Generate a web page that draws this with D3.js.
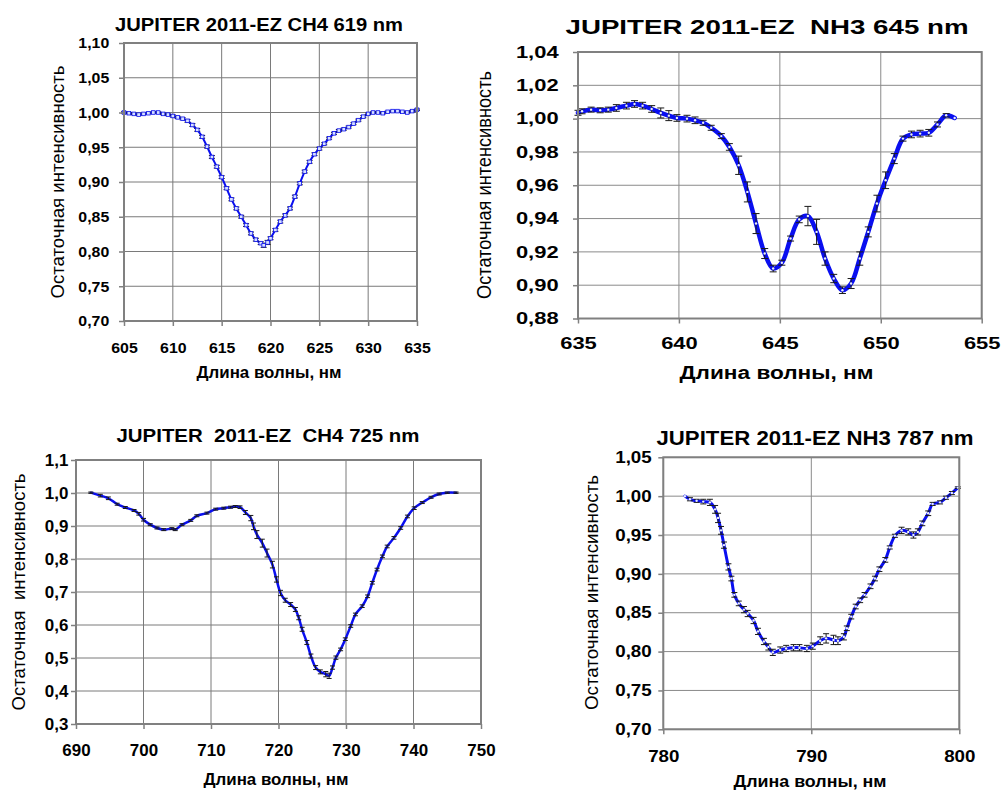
<!DOCTYPE html>
<html><head><meta charset="utf-8">
<script src="https://cdn.jsdelivr.net/npm/d3@7"></script>
<style>
body{margin:0;background:#fff;}
svg{display:block;}
text{font-family:"Liberation Sans",Arial,sans-serif;fill:#000;}
</style>
</head><body>
<svg id="c" width="1003" height="792"></svg>
<script>
// ---------- Panel 1: CH4 619 nm ----------
const wl1 = [605,605.5,606,606.5,607,607.5,608,608.5,609,609.5,610,610.5,611,611.5,612,612.5,613,613.5,614,614.5,615,615.5,616,616.5,617,617.5,618,618.5,619,619.3,619.7,620,620.5,621,621.5,622,622.5,623,623.5,624,624.5,625,625.5,626,626.5,627,627.5,628,628.5,629,629.5,630,630.5,631,631.5,632,632.5,633,633.5,634,634.5,635];
const r1 = [1.000,0.999,0.998,0.997,0.998,0.999,1.000,1.000,0.998,0.997,0.995,0.993,0.991,0.988,0.982,0.975,0.965,0.951,0.936,0.922,0.907,0.891,0.875,0.862,0.850,0.838,0.826,0.817,0.812,0.809,0.813,0.819,0.831,0.843,0.852,0.862,0.879,0.898,0.915,0.929,0.940,0.948,0.955,0.963,0.970,0.974,0.976,0.979,0.984,0.989,0.994,0.998,1.000,1.000,0.999,1.001,1.002,1.002,1.001,1.000,1.002,1.004];
const e1 = [0.001,0.001,0.001,0.001,0.001,0.001,0.001,0.001,0.001,0.001,0.0015,0.0015,0.0015,0.002,0.002,0.002,0.002,0.002,0.002,0.002,0.002,0.002,0.002,0.002,0.002,0.002,0.002,0.002,0.002,0.003,0.003,0.002,0.002,0.002,0.002,0.002,0.002,0.002,0.002,0.002,0.002,0.002,0.0015,0.0015,0.0015,0.0015,0.0015,0.0015,0.0015,0.0015,0.0015,0.001,0.001,0.001,0.001,0.001,0.001,0.001,0.001,0.001,0.001,0.001];
const xTicks1 = [605,610,615,620,625,630,635];
const yTicks1 = [0.70,0.75,0.80,0.85,0.90,0.95,1.00,1.05,1.10];
const yLabels1 = ["0,70","0,75","0,80","0,85","0,90","0,95","1,00","1,05","1,10"];

// ---------- Panel 2: NH3 645 nm ----------
const wl2 = [635.0,635.2,635.65,636.1,636.5,636.9,637.4,637.8,638.2,638.65,639.1,639.5,639.9,640.4,640.8,641.2,641.6,642.1,642.5,642.96,643.39,643.82,644.25,644.67,645.1,645.53,645.96,646.39,646.82,647.24,647.67,648.1,648.53,648.96,649.38,649.81,650.24,650.67,651.1,651.52,651.95,652.38,652.81,653.24,653.66];
const r2 = [1.0035,1.0044,1.0054,1.005,1.0054,1.0064,1.0078,1.0088,1.0078,1.0058,1.0034,1.0018,1.0004,1.0,0.999,0.9975,0.9945,0.9895,0.983,0.972,0.956,0.937,0.919,0.910,0.9135,0.928,0.9395,0.9415,0.932,0.916,0.904,0.897,0.901,0.916,0.932,0.949,0.963,0.976,0.988,0.9905,0.991,0.9915,0.9965,1.002,1.0004];
const e2 = [0.0015,0.0015,0.0015,0.0015,0.0015,0.002,0.002,0.002,0.002,0.002,0.003,0.003,0.002,0.002,0.002,0.0015,0.0015,0.0015,0.002,0.0055,0.006,0.006,0.003,0.002,0.0015,0.0015,0.002,0.0058,0.0075,0.004,0.0025,0.002,0.003,0.004,0.003,0.005,0.005,0.003,0.0015,0.002,0.002,0.002,0.0015,0.001,0];
const xTicks2 = [635,640,645,650,655];
const yTicks2 = [0.88,0.90,0.92,0.94,0.96,0.98,1.00,1.02,1.04];
const yLabels2 = ["0,88","0,90","0,92","0,94","0,96","0,98","1,00","1,02","1,04"];

// ---------- Panel 3: CH4 725 nm ----------
const wl3 = [692.2,693.6,694.8,696.1,697.3,698.6,699.3,700.0,701.0,702.0,703.0,704.2,704.7,705.7,707.0,707.9,709.4,710.7,711.9,712.9,713.6,714.3,715.1,715.9,716.3,716.8,717.6,718.3,719.1,719.7,720.3,721.0,721.8,722.5,723.0,723.5,724.2,724.8,725.5,726.2,727.0,727.5,728.0,728.5,729.2,729.9,730.7,731.4,732.4,733.2,733.9,734.6,735.4,736.1,737.1,738.1,739.1,740.1,741.3,742.6,743.8,745.0,746.3];
const r3 = [1.001,0.992,0.984,0.966,0.956,0.947,0.937,0.919,0.904,0.894,0.889,0.892,0.889,0.904,0.917,0.931,0.939,0.951,0.954,0.957,0.959,0.957,0.941,0.924,0.899,0.874,0.848,0.818,0.783,0.738,0.697,0.675,0.662,0.647,0.622,0.587,0.547,0.506,0.471,0.458,0.451,0.446,0.471,0.501,0.526,0.557,0.597,0.632,0.657,0.687,0.728,0.768,0.808,0.838,0.864,0.894,0.929,0.954,0.971,0.987,0.997,1.001,1.001];
const e3 = [0.002,0.004,0.004,0.003,0.003,0.003,0.004,0.004,0.003,0.003,0.003,0.003,0.003,0.003,0.003,0.003,0.003,0.003,0.003,0.003,0.003,0.004,0.006,0.008,0.010,0.012,0.012,0.012,0.010,0.008,0.008,0.006,0.006,0.006,0.006,0.006,0.006,0.006,0.006,0.006,0.008,0.008,0.005,0.005,0.004,0.004,0.004,0.004,0.004,0.004,0.004,0.004,0.004,0.004,0.004,0.004,0.004,0.004,0.003,0.003,0.003,0.002,0.002];
const xTicks3 = [690,700,710,720,730,740,750];
const yTicks3 = [0.3,0.4,0.5,0.6,0.7,0.8,0.9,1.0,1.1];
const yLabels3 = ["0,3","0,4","0,5","0,6","0,7","0,8","0,9","1,0","1,1"];

// ---------- Panel 4: NH3 787 nm ----------
const wl4 = [781.46,781.8,782.25,782.7,783.15,783.5,783.7,783.9,784.1,784.4,784.6,784.8,785.1,785.45,785.7,786.1,786.4,786.8,787.1,787.4,787.9,788.3,788.8,789.2,789.7,790.1,790.6,791.0,791.5,791.8,792.2,792.4,792.7,793.0,793.3,793.6,794.0,794.3,794.6,795.0,795.3,795.65,796.1,796.55,796.9,797.2,797.5,797.9,798.2,798.7,799.1,799.5,799.9];
const r4 = [1.000,0.996,0.994,0.993,0.992,0.983,0.972,0.956,0.937,0.909,0.894,0.873,0.862,0.854,0.849,0.840,0.826,0.813,0.806,0.799,0.802,0.804,0.805,0.805,0.804,0.807,0.814,0.817,0.815,0.814,0.819,0.830,0.845,0.858,0.866,0.873,0.884,0.894,0.906,0.918,0.934,0.949,0.956,0.954,0.950,0.954,0.965,0.978,0.990,0.992,0.998,1.004,1.011];
const e4 = [0,0.002,0.002,0.003,0.004,0.005,0.006,0.005,0.004,0.004,0.003,0.003,0.003,0.004,0.004,0.004,0.004,0.004,0.004,0.004,0.004,0.004,0.004,0.004,0.004,0.004,0.005,0.006,0.006,0.005,0.004,0.003,0.003,0.003,0.003,0.003,0.003,0.003,0.003,0.003,0.002,0.002,0.004,0.004,0.004,0.004,0.003,0.003,0.002,0.002,0.002,0.002,0.001];
const xTicks4 = [780,790,800];
const yTicks4 = [0.70,0.75,0.80,0.85,0.90,0.95,1.00,1.05];
const yLabels4 = ["0,70","0,75","0,80","0,85","0,90","0,95","1,00","1,05"];

const titles = ["JUPITER 2011-EZ CH4 619 nm","JUPITER 2011-EZ  NH3 645 nm","JUPITER  2011-EZ  CH4 725 nm","JUPITER 2011-EZ NH3 787 nm"];
const xTitle = "Длина волны, нм";
const yTitles = ["Остаточная интенсивность","Остаточная интенсивность","Остаточная  интенсивность","Остаточная интенсивность"];

// ---------- Layout / style ----------
const panels = [
  {wl:wl1, r:r1, e:e1, xTicks:xTicks1, yTicks:yTicks1, yLabels:yLabels1, xDom:[605,635], yDom:[0.70,1.10],
   box:{x0:124,x1:417,y0:43,y1:321}, tickFs:15, sx:1.06, ypad:8.9, xBase:353,
   title:{t:titles[0], cx:259, by:31, fs:18, len:288},
   xt:{cx:269, by:378, fs:16, len:145}, yt:{t:yTitles[0], cx:58, cy:182, fs:18, len:233},
   lw:2, marker:"square", cap:3, grid:"#7a7a7a"},
  {wl:wl2, r:r2, e:e2, xTicks:xTicks2, yTicks:yTicks2, yLabels:yLabels2, xDom:[635,655], yDom:[0.88,1.04],
   box:{x0:578,x1:981.7,y0:52,y1:318.5}, tickFs:16.5, sx:1.33, ypad:9.6, xBase:349.5,
   title:{t:titles[1], cx:767, by:33.5, fs:19.5, len:403},
   xt:{cx:776.5, by:379, fs:18, len:194}, yt:{t:yTitles[1], cx:484, cy:185, fs:21, len:228},
   lw:4.5, marker:"dot", cap:3.5, grid:"#8a8a8a"},
  {wl:wl3, r:r3, e:e3, xTicks:xTicks3, yTicks:yTicks3, yLabels:yLabels3, xDom:[690,750], yDom:[0.3,1.1],
   box:{x0:76,x1:481,y0:460,y1:724}, tickFs:16, sx:1.06, ypad:2.2, xBase:755.7,
   title:{t:titles[2], cx:268, by:442, fs:19, len:303},
   xt:{cx:276, by:785, fs:16.5, len:145}, yt:{t:yTitles[2], cx:18.5, cy:592, fs:18, len:237},
   lw:2.5, marker:"none", cap:2.5, grid:"#7a7a7a"},
  {wl:wl4, r:r4, e:e4, xTicks:xTicks4, yTicks:yTicks4, yLabels:yLabels4, xDom:[780,800], yDom:[0.70,1.05],
   box:{x0:663.3,x1:959.3,y0:457.3,y1:729.3}, tickFs:16.3, sx:1.15, ypad:5.1, xBase:761.7,
   title:{t:titles[3], cx:815, by:445, fs:20, len:317},
   xt:{cx:810, by:786.5, fs:17, len:153}, yt:{t:yTitles[3], cx:591.7, cy:592.5, fs:18, len:235},
   lw:3, marker:"dot", cap:3, grid:"#8a8a8a"}
];

const svg = d3.select("#c");
const BLUE = "#0a0ff0";
const AXIS = "#808080";

panels.forEach(p => {
  const b = p.box;
  const x = d3.scaleLinear().domain(p.xDom).range([b.x0, b.x1]);
  const y = d3.scaleLinear().domain(p.yDom).range([b.y1, b.y0]);
  const g = svg.append("g");

  // gridlines
  g.append("g").selectAll("line").data(p.yTicks).join("line")
    .attr("x1", b.x0).attr("x2", b.x1)
    .attr("y1", d => y(d)).attr("y2", d => y(d))
    .attr("stroke", p.grid).attr("stroke-width", 1);
  g.append("g").selectAll("line").data(p.xTicks).join("line")
    .attr("y1", b.y0).attr("y2", b.y1)
    .attr("x1", d => x(d)).attr("x2", d => x(d))
    .attr("stroke", p.grid).attr("stroke-width", 1);

  const pts = p.wl.map((w, i) => ({w, v: p.r[i], e: p.e[i]}));

  // line
  g.append("path").datum(pts)
    .attr("d", d3.line().x(d => x(d.w)).y(d => y(d.v)).curve(d3.curveCatmullRom.alpha(0.5)))
    .attr("fill", "none").attr("stroke", BLUE).attr("stroke-width", p.lw)
    .attr("stroke-linejoin", "round").attr("stroke-linecap", "round");

  // error bars
  const eb = g.append("g").attr("stroke", "#1a1a1a").attr("stroke-width", 1);
  pts.filter(d => d.e > 0).forEach(d => {
    const xx = x(d.w), ya = y(d.v - d.e), yb = y(d.v + d.e);
    eb.append("line").attr("x1", xx).attr("x2", xx).attr("y1", ya).attr("y2", yb);
    eb.append("line").attr("x1", xx - p.cap).attr("x2", xx + p.cap).attr("y1", ya).attr("y2", ya);
    eb.append("line").attr("x1", xx - p.cap).attr("x2", xx + p.cap).attr("y1", yb).attr("y2", yb);
  });

  // markers
  if (p.marker === "square") {
    g.append("g").selectAll("rect").data(pts).join("rect")
      .attr("x", d => x(d.w) - 1.8).attr("y", d => y(d.v) - 1.8)
      .attr("width", 3.6).attr("height", 3.6)
      .attr("fill", "#d8e2ff").attr("stroke", BLUE).attr("stroke-width", 0.8);
  } else if (p.marker === "dot") {
    g.append("g").selectAll("circle").data(pts).join("circle")
      .attr("cx", d => x(d.w)).attr("cy", d => y(d.v)).attr("r", 1.2)
      .attr("fill", "#e6ecff");
  }

  // frame
  g.append("rect").attr("x", b.x0).attr("y", b.y0)
    .attr("width", b.x1 - b.x0).attr("height", b.y1 - b.y0)
    .attr("fill", "none").attr("stroke", AXIS).attr("stroke-width", 2);

  // axes
  const fmt = d => p.yLabels[p.yTicks.indexOf(d)];
  const ya = g.append("g").attr("transform", `translate(${b.x0},0)`)
    .call(d3.axisLeft(y).tickValues(p.yTicks).tickFormat(fmt).tickSize(5).tickPadding(p.ypad).tickSizeOuter(0));
  const xpad = (p.xBase - b.y1) - 0.71 * p.tickFs - 5;
  const xa = g.append("g").attr("transform", `translate(0,${b.y1})`)
    .call(d3.axisBottom(x).tickValues(p.xTicks).tickFormat(d3.format("d")).tickSize(5).tickPadding(xpad).tickSizeOuter(0));
  [ya, xa].forEach(a => {
    a.select(".domain").remove();
    a.selectAll(".tick line").attr("stroke", AXIS).attr("stroke-width", 1.5);
    a.selectAll(".tick text").attr("font-family", '"Liberation Sans",Arial,sans-serif')
      .attr("font-size", p.tickFs).attr("font-weight", "bold").attr("fill", "#000")
      .attr("transform", `scale(${p.sx},1)`);
  });

  // title
  g.append("text").attr("x", p.title.cx).attr("y", p.title.by)
    .attr("text-anchor", "middle").attr("font-size", p.title.fs).attr("font-weight", "bold")
    .attr("textLength", p.title.len).attr("lengthAdjust", "spacingAndGlyphs")
    .style("white-space", "pre").text(p.title.t);
  // x title
  g.append("text").attr("x", p.xt.cx).attr("y", p.xt.by)
    .attr("text-anchor", "middle").attr("font-size", p.xt.fs).attr("font-weight", "bold")
    .attr("textLength", p.xt.len).attr("lengthAdjust", "spacingAndGlyphs")
    .text(xTitle);
  // y title
  g.append("text").attr("transform", `translate(${p.yt.cx},${p.yt.cy}) rotate(-90)`)
    .attr("text-anchor", "middle").attr("dy", "0.35em").attr("font-size", p.yt.fs)
    .attr("textLength", p.yt.len).attr("lengthAdjust", "spacingAndGlyphs")
    .style("white-space", "pre").text(p.yt.t);
});
</script>
</body></html>
